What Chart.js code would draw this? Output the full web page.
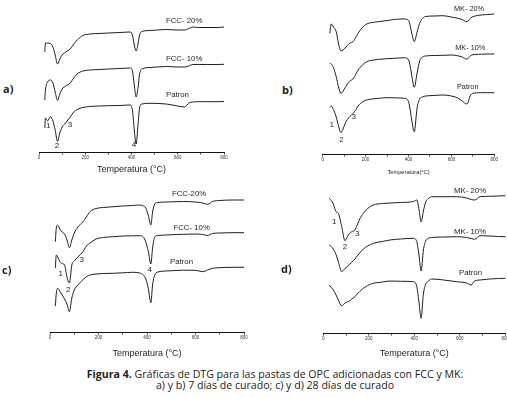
<!DOCTYPE html>
<html>
<head>
<meta charset="utf-8">
<script src="https://cdn.jsdelivr.net/npm/chart.js@4.4.0/dist/chart.umd.min.js"></script>
<style>
html, body { margin:0; padding:0; background:#fff; }
#fig { position:relative; width:507px; height:398px; overflow:hidden; background:#fff; }
#fig canvas { position:absolute; }
.tag { position:absolute; font:bold 11px 'Open Sans', sans-serif; color:#222; line-height:14px; }
.cap { position:absolute; left:0; width:550px; text-align:center; font:10.6px 'Open Sans', sans-serif; color:#222; line-height:12px; white-space:nowrap; }
</style>
</head>
<body>
<div id="fig"></div>
<script>
// DTG curves, 7 days (a: FCC, b: MK) and 28 days (c: FCC, d: MK)
const tempA = [25, 28, 37, 50, 60, 70, 80, 90, 100, 115, 135, 150, 165, 190, 220, 260, 300, 350, 395, 405, 412, 420, 428, 435, 445, 480, 550, 600, 630, 648, 665, 690, 730, 770, 800];
const fcc20A = [100, 109, 109, 108.5, 105, 97, 88, 93, 97, 100, 103, 108, 112, 116.5, 118, 118.5, 119, 119.5, 120, 116, 107, 101, 108, 117, 120.5, 121.5, 122.5, 122, 122, 123.5, 125, 124.5, 124.5, 124.5, 125];
const fcc10A = [52, 62, 70, 72, 69, 60, 51.5, 58, 63, 66, 69, 74, 78, 81, 82, 82.5, 83, 83.5, 84, 80, 67, 55, 64, 78, 83, 84.5, 85.5, 85, 85, 86, 87.5, 87.5, 87.5, 87.5, 87.7];
const patronA = [24, 34, 31, 35.5, 31, 22, 10.5, 19, 25, 29, 35, 40, 42.5, 44.5, 45.5, 46, 46.3, 46.5, 47, 40, 22, 8, 27, 44, 48, 48.7, 48, 46, 45, 49, 50, 50.3, 50.3, 50.3, 50.5];

const tempB = [33, 40, 50, 63, 75, 85, 95, 105, 115, 126, 141, 155, 165, 185, 205, 230, 260, 300, 340, 380, 395, 405, 415, 427, 440, 452, 465, 480, 520, 560, 600, 630, 650, 672, 690, 710, 740, 770, 800];
const mk20B = [120.7, 130, 127, 122.3, 109, 103, 104, 106, 108.5, 110.7, 112.3, 117, 120.7, 126.5, 130, 131.5, 132.3, 133.5, 134.7, 135, 134.5, 131, 121, 112.3, 122, 130.7, 135.5, 137.5, 138, 138.3, 137, 135.7, 134.5, 132.3, 136, 138, 139, 139.5, 140];
const mk10B = [90.7, 90, 86.5, 77.3, 66, 60.5, 63, 66.5, 70, 73, 75, 80, 84, 89, 92.3, 93.7, 94.7, 95.3, 95.8, 96.2, 95.5, 91, 79, 66.7, 81, 93, 97, 98, 98.5, 98.7, 99, 98.2, 97, 94.7, 98.5, 99.5, 99.8, 100, 100];
const patronB = [46.5, 48, 44.5, 37, 27, 21.5, 25, 30.7, 34.5, 37.3, 40.5, 44.5, 48, 52, 54, 55, 55.7, 56.3, 56.2, 55.7, 54.5, 48, 34, 22.3, 46, 55, 57, 58, 58.5, 59, 58, 56, 53, 50, 59, 61, 61.3, 61.3, 61.3];

const tempC = [22, 26, 32, 40, 50, 60, 70, 80, 90, 100, 115, 135, 150, 165, 190, 220, 260, 300, 340, 370, 385, 395, 405, 416, 423, 432, 445, 480, 520, 550, 600, 630, 650, 670, 700, 750, 800];
const fcc20C = [90.3, 104, 107, 103, 100, 98, 92, 84.3, 92, 99, 105, 110, 115, 120.3, 123.5, 124.5, 125.3, 126, 126.5, 127, 126, 124, 117, 107, 120, 128, 129.5, 130, 130.3, 130.5, 130, 129, 127.7, 130.5, 131.5, 132, 132];
const fcc10C = [64, 77, 75, 70.5, 68.5, 67, 55, 49, 67, 71, 75, 80, 86, 89, 93, 94.5, 95.3, 96, 96.2, 96.3, 95, 90, 81, 68, 84, 95, 96.5, 97, 97.5, 97.7, 98, 97.5, 96.5, 98.5, 99, 99.3, 99.3];
const patronC = [26, 39, 43.7, 41, 37, 33, 28, 20.3, 34, 42, 47, 52, 55.3, 57, 58, 58.5, 58.7, 59.2, 59.7, 59, 57, 53, 44, 29.3, 47, 57, 60, 61, 61.5, 61.8, 61.7, 60.3, 62, 63.7, 64.3, 64.7, 64.7];

const tempD = [26, 35, 44, 56, 66, 81, 95, 103, 110, 125, 139, 149, 160, 176, 195, 220, 260, 293, 340, 396, 411, 421, 430, 440, 450, 460, 476, 530, 586, 630, 650, 665, 689, 730, 770, 800];
const mk20D = [134.7, 132.5, 129, 121.3, 119.7, 106.3, 92.3, 95, 98, 101.3, 103, 108, 114, 119.7, 124.5, 128, 129.5, 130, 130.5, 131.5, 133, 123, 111, 122, 131, 134, 136.3, 136.3, 136.3, 135, 133.5, 133, 136.3, 136.7, 137, 137.3];
const mk10D = [88, 86.5, 84, 78.5, 71.3, 61.3, 64.5, 66, 67.5, 70.7, 74, 77, 80, 84, 87, 89.7, 91.5, 93, 94, 94.7, 91.3, 77, 62, 83, 92, 94.5, 95.5, 96, 96.3, 95.5, 94.5, 93.7, 97.3, 97, 96.5, 96.3];
const patronD = [48, 45.5, 43, 38, 33, 27.3, 30, 31, 31.3, 34, 36.3, 39, 41.5, 44.7, 47.5, 49.7, 51, 52, 51.7, 51.3, 46.3, 30, 14.7, 39, 49, 51.5, 54, 53, 51.3, 50, 48, 52, 53, 54, 54.5, 54.7];

const xTicks = [0, 200, 400, 600, 800];

// curve names and peak numbers: [text, temperatura, valor]
const notesA = [['FCC- 20%', 549, 131], ['FCC- 10%', 549, 93], ['Patron', 549, 57], ['1', 40, 26], ['2', 78, 6], ['3', 134, 27.7], ['4', 411, 7]];
const notesB = [['MK- 20%', 612, 145], ['MK- 10%', 618, 106], ['Patron', 626, 67], ['1', 43, 29], ['2', 87, 14], ['3', 145, 36.7]];
const notesC = [['FCC-20%', 503, 138], ['FCC- 10%', 509, 104], ['Patron', 495, 70], ['1', 44, 58.7], ['2', 75.5, 42], ['3', 130.7, 72.5], ['4', 411, 62.5]];
const notesD = [['MK- 20%', 574.5, 142.5], ['MK- 10%', 574.5, 101.3], ['Patron', 596.5, 60.3], ['1', 48, 111.3], ['2', 95, 86], ['3', 149.5, 99.7]];

const FONT = '"Liberation Sans", Arial, sans-serif';
Chart.defaults.font.family = FONT;

const fig = document.getElementById('fig');

const notesPlugin = (items, nameSize, numSize) => ({
	id: 'notes',
	afterDatasetsDraw(chart) {
		const {ctx, scales: {x, y}} = chart;
		ctx.save();
		ctx.fillStyle = '#1e1e1e';
		ctx.textBaseline = 'middle';
		items.forEach(n => {
			const isName = n[0].length > 1;
			ctx.font = (isName ? nameSize : numSize) + 'px ' + FONT;
			ctx.textAlign = isName ? 'left' : 'center';
			ctx.fillText(n[0], x.getPixelForValue(n[1]), y.getPixelForValue(n[2]));
		});
		ctx.restore();
	}
});

const panel = p => {
	const cl = Math.floor(p.L) - 12, ct = Math.floor(p.top) - 12;
	const w = Math.ceil(p.R) + 14 - cl, h = Math.ceil(p.B + p.axisH) + 4 - ct;
	const cv = document.createElement('canvas');
	cv.width = w; cv.height = h;
	cv.style.left = cl + 'px'; cv.style.top = ct + 'px';
	cv.style.width = w + 'px'; cv.style.height = h + 'px';
	fig.appendChild(cv);

	new Chart(cv, {
		type: 'line',
		data: {
			datasets: p.curves.map(v => ({
				data: p.temps.map((t, i) => ({x: t, y: v[i]})),
				borderColor: '#1e1e1e',
				borderWidth: 1,
				pointRadius: 0,
				fill: false,
				clip: false,
				cubicInterpolationMode: 'monotone',
			}))
		},
		options: {
			responsive: false,
			animation: false,
			devicePixelRatio: 1,
			layout: {padding: {left: p.L - cl, top: p.top - ct, right: cl + w - p.R, bottom: ct + h - p.B - p.axisH}},
			plugins: {legend: {display: false}, tooltip: {enabled: false}},
			scales: {
				x: {
					type: 'linear', min: 0, max: 800,
					ticks: {
						stepSize: 100, autoSkip: false, maxRotation: 0, padding: 1,
						color: '#333', font: {size: 4.5},
						callback: v => xTicks.includes(v) ? String(v) : ''
					},
					grid: {drawOnChartArea: false, tickLength: 2.5, color: '#111', lineWidth: 0.8},
					border: {color: '#111', width: 1},
					title: {display: !!p.title, text: p.title, color: '#1e1e1e', font: {size: p.titleSize}, padding: 0},
					afterFit: s => { s.height = p.axisH; }
				},
				y: {display: false, min: 0, max: p.B - p.top}
			}
		},
		plugins: [notesPlugin(p.notes, p.nameSize, p.numSize)]
	});
};

panel({L: 39, R: 224, top: 5, B: 152, axisH: 23.4, title: 'Temperatura (°C)', titleSize: 9,
	temps: tempA, curves: [fcc20A, fcc10A, patronA], notes: notesA, nameSize: 7.8, numSize: 8});
panel({L: 322.7, R: 494.3, top: 3, B: 154, axisH: 22.1, title: 'Temperatura(°C)', titleSize: 5.7,
	temps: tempB, curves: [mk20B, mk10B, patronB], notes: notesB, nameSize: 7.3, numSize: 7.5});
panel({L: 50, R: 244, top: 185, B: 332, axisH: 26.9, title: 'Temperatura (°C)', titleSize: 9,
	temps: tempC, curves: [fcc20C, fcc10C, patronC], notes: notesC, nameSize: 7.8, numSize: 8});
panel({L: 323.3, R: 505.3, top: 183, B: 333, axisH: 26.4, title: 'Temperatura (°C)', titleSize: 9,
	temps: tempD, curves: [mk20D, mk10D, patronD], notes: notesD, nameSize: 7.8, numSize: 8});

const tag = (t, x, y) => {
	const d = document.createElement('div');
	d.className = 'tag'; d.textContent = t;
	d.style.left = x + 'px'; d.style.top = (y - 7) + 'px';
	fig.appendChild(d);
};
tag('a)', 3, 89); tag('b)', 282, 90); tag('c)', 2, 270); tag('d)', 281, 269);

const cap1 = document.createElement('div');
cap1.className = 'cap'; cap1.style.top = '368px';
cap1.innerHTML = '<b>Figura 4.</b> Gráficas de DTG para las pastas de OPC adicionadas con FCC y MK:';
fig.appendChild(cap1);
const cap2 = document.createElement('div');
cap2.className = 'cap'; cap2.style.top = '379px';
cap2.textContent = 'a) y b) 7 días de curado; c) y d) 28 días de curado';
fig.appendChild(cap2);
</script>
</body>
</html>
